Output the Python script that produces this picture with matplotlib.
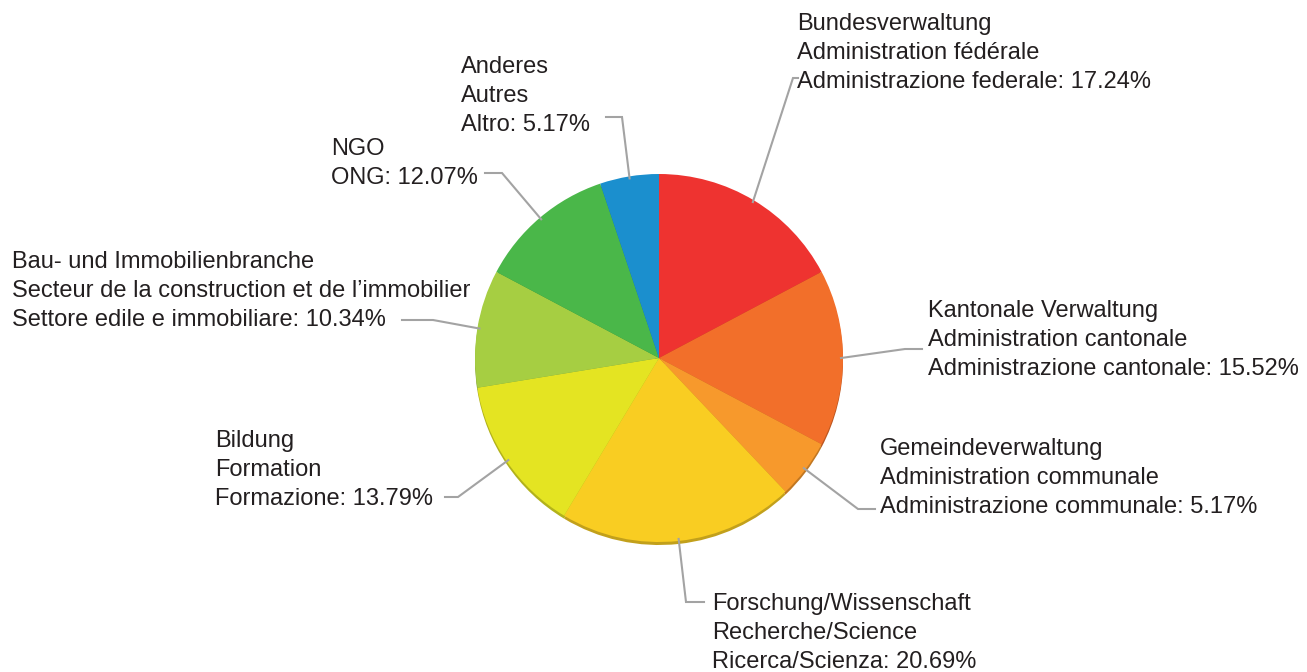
import numpy as np
import matplotlib
matplotlib.use("Agg")
import matplotlib.pyplot as plt
from matplotlib.colors import to_rgb

# ---- data ----
categories = ["Bundesverwaltung", "Kantonale Verwaltung", "Gemeindeverwaltung",
              "Forschung/Wissenschaft", "Bildung", "Bau- und Immobilienbranche",
              "NGO", "Anderes"]
values = [17.24, 15.52, 5.17, 20.69, 13.79, 10.34, 12.07, 5.17]
label_lines = [
    ["Bundesverwaltung", "Administration fédérale", "Administrazione federale: 17.24%"],
    ["Kantonale Verwaltung", "Administration cantonale", "Administrazione cantonale: 15.52%"],
    ["Gemeindeverwaltung", "Administration communale", "Administrazione communale: 5.17%"],
    ["Forschung/Wissenschaft", "Recherche/Science", "Ricerca/Scienza: 20.69%"],
    ["Bildung", "Formation", "Formazione: 13.79%"],
    ["Bau- und Immobilienbranche", "Secteur de la construction et de l\u2019immobilier",
     "Settore edile e immobiliare: 10.34%"],
    ["NGO", "ONG: 12.07%"],
    ["Anderes", "Autres", "Altro: 5.17%"],
]
colors = ["#EE3330", "#F26F2A", "#F7992C", "#F9CD22", "#E4E422", "#A6CE42", "#4AB749", "#1B8FCE"]

# ---- layout (pixel coords, y from top) ----
W, H = 1307, 672
cx, cy, R = 659, 358, 184
text_pos = [(797, 30), (928, 317), (880, 455), (712, 610),
            (215, 447), (12, 268), (331, 155), (461, 73)]
elbows = [((793, 78), (798, 78)), ((905, 349), (922, 349)), ((858, 509), (875, 509)),
          ((686, 602), (704, 602)), ((458, 497), (445, 497)), ((433, 320), (402, 320)),
          ((502, 173), (485, 173)), ((622, 117), (606, 117))]
line_step = 29
fs = 17.0
text_color = "#231F20"
lead_color = "#A3A3A3"

plt.rcParams['font.family'] = ['Liberation Sans', 'DejaVu Sans']

fig = plt.figure(figsize=(W / 100, H / 100), dpi=100)
ax = fig.add_axes([0, 0, 1, 1])

def Y(py):
    return H - py

# shadow pie
dark = [tuple(c * 0.78 for c in to_rgb(col)) for col in colors]
ax.pie(values, colors=dark, startangle=90, counterclock=False,
       center=(cx, Y(cy + 3)), radius=R, wedgeprops=dict(linewidth=0))
# main pie
ax.pie(values, colors=colors, startangle=90, counterclock=False,
       center=(cx, Y(cy)), radius=R, wedgeprops=dict(linewidth=0))

# leader lines
cum = np.cumsum([0] + values[:-1])
total = sum(values)
for i, v in enumerate(values):
    mid = (cum[i] + v / 2) / total * 360.0
    ang = np.deg2rad(90 - mid)
    ex = cx + (R - 2) * np.cos(ang)
    ey = Y(cy) + (R - 2) * np.sin(ang)
    (x1, y1), (x2, y2) = elbows[i]
    ax.plot([ex, x1, x2], [ey, Y(y1), Y(y2)], color=lead_color, lw=1.5,
            solid_joinstyle='miter', zorder=1)

# labels
for i, lines in enumerate(label_lines):
    tx, ty = text_pos[i]
    for k, s in enumerate(lines):
        ax.text(tx, Y(ty + k * line_step), s, fontsize=fs, color=text_color,
                ha='left', va='baseline')

ax.set_xlim(0, W)
ax.set_ylim(0, H)
ax.set_aspect('auto')
ax.axis('off')
fig.savefig("out.png", dpi=100)
